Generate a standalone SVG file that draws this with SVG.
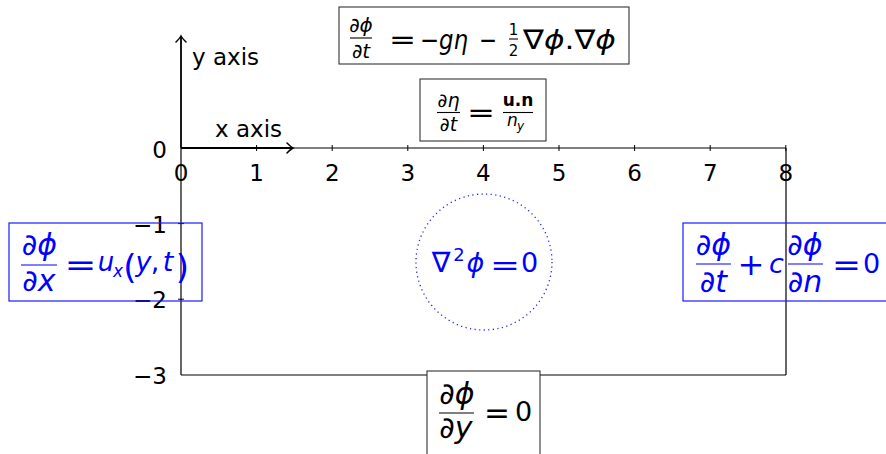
<svg xmlns="http://www.w3.org/2000/svg" width="886" height="454" viewBox="0 0 886 454">
<defs>
<marker id="arr" viewBox="-6 -6 9 12" markerWidth="9" markerHeight="12" refX="0" refY="0" orient="auto" markerUnits="userSpaceOnUse">
<path d="M-5,-5 Q-1,-1 1,0 Q-1,1 -5,5" fill="none" stroke="#000" stroke-width="1.5" stroke-linecap="round"/>
</marker>
</defs>
<style>
text{font-family:"DejaVu Sans",sans-serif;text-anchor:middle}
.ax{font-size:23px;fill:#000}
.i{font-style:oblique}
.s{text-anchor:start}
.blue text{fill:#0000ff}
.blue line{stroke:#0000ff}
.bar{stroke:#000;stroke-width:1.1}
.bx{fill:none;stroke:#333;stroke-width:1.1}
.bb{fill:none;stroke:#1a1aff;stroke-width:1.2}
</style>
<rect width="886" height="454" fill="#fff"/>

<g id="axes" stroke="#000" fill="none">
<line x1="181" y1="148" x2="786" y2="148" stroke-width="1.2"/>
<line x1="181" y1="148" x2="181" y2="375" stroke-width="1.2"/>
<line x1="181" y1="375" x2="786" y2="375" stroke-width="1.2"/>
<line x1="786" y1="148" x2="786" y2="375" stroke-width="1.2"/>
<line x1="181" y1="148" x2="292" y2="148" stroke-width="1.8" marker-end="url(#arr)"/>
<line x1="181" y1="148" x2="181" y2="37" stroke-width="1.8" marker-end="url(#arr)"/>
<path d="M256.6,145V151M332.2,145V151M407.8,145V151M483.4,145V151M559,145V151M634.6,145V151M710.2,145V151M785.8,145V151M178,223.6H184M178,299.2H184" stroke-width="1"/>
</g>

<g id="axis-labels" class="ax">
<text class="ax s" x="192" y="65">y axis</text>
<text class="ax s" x="215" y="137">x axis</text>
<text class="ax" x="167" y="158" style="text-anchor:end">0</text>
<text class="ax" x="181" y="181">0</text>
<text class="ax" x="256.6" y="181">1</text>
<text class="ax" x="332.2" y="181">2</text>
<text class="ax" x="407.8" y="181">3</text>
<text class="ax" x="483.4" y="181">4</text>
<text class="ax" x="559" y="181">5</text>
<text class="ax" x="634.6" y="181">6</text>
<text class="ax" x="710.2" y="181">7</text>
<text class="ax" x="785.8" y="181">8</text>
<text class="ax" x="167" y="232.5" style="text-anchor:end">−1</text>
<text class="ax" x="167" y="308" style="text-anchor:end">−2</text>
<text class="ax" x="167" y="384" style="text-anchor:end">−3</text>
</g>

<g id="dynamic-fs-bc">
<rect class="bx" x="339" y="7" width="290" height="57"/>
<text class="i" x="361" y="32" font-size="20">∂ϕ</text>
<line class="bar" x1="350" y1="38" x2="372" y2="38"/>
<text class="i" x="361" y="58" font-size="20">∂t</text>
<text x="402.5" y="48.5" font-size="27" textLength="27" lengthAdjust="spacingAndGlyphs">=</text>
<text class="s i" x="420" y="49" font-size="27" textLength="48" lengthAdjust="spacingAndGlyphs">−gη</text>
<text x="488" y="48.5" font-size="27" textLength="18" lengthAdjust="spacingAndGlyphs">−</text>
<text x="513.5" y="35" font-size="15">1</text>
<line class="bar" x1="509" y1="39" x2="518" y2="39"/>
<text x="513.5" y="56" font-size="15">2</text>
<text class="s" x="523" y="49" font-size="27" textLength="93" lengthAdjust="spacingAndGlyphs">∇<tspan class="i">ϕ</tspan>.∇<tspan class="i">ϕ</tspan></text>
</g>

<g id="kinematic-fs-bc">
<rect class="bx" x="420" y="79" width="126" height="62"/>
<text class="i" x="448.5" y="107" font-size="19">∂η</text>
<line class="bar" x1="437" y1="112.5" x2="460" y2="112.5"/>
<text class="i" x="448.5" y="131" font-size="19">∂t</text>
<text x="481" y="122" font-size="27" textLength="28" lengthAdjust="spacingAndGlyphs">=</text>
<text x="518" y="106" font-size="17" font-weight="bold">u.n</text>
<line class="bar" x1="503" y1="112.5" x2="533" y2="112.5"/>
<text class="i" x="512.5" y="126" font-size="17">n</text>
<text class="i" x="520.5" y="130" font-size="12">y</text>
</g>

<g id="inflow-bc" class="blue">
<rect class="bb" x="9" y="223" width="193" height="78"/>
<text class="i" x="39.5" y="255" font-size="30">∂ϕ</text>
<line x1="21" y1="265" x2="57" y2="265" stroke-width="1.2"/>
<text class="i" x="39" y="291" font-size="30">∂x</text>
<text x="80.5" y="275" font-size="30" textLength="32" lengthAdjust="spacingAndGlyphs">=</text>
<text class="i" x="106" y="271" font-size="26">u</text>
<text class="i" x="118" y="277" font-size="17">x</text>
<text x="130" y="279" font-size="34">(</text>
<text class="i" x="143.5" y="271" font-size="27">y</text>
<text x="155" y="271" font-size="27">,</text>
<text class="i" x="168" y="271" font-size="27">t</text>
<text x="182.5" y="279" font-size="34">)</text>
</g>

<g id="radiation-bc" class="blue">
<rect class="bb" x="683" y="223" width="220" height="78"/>
<text class="i" x="713.5" y="255" font-size="30">∂ϕ</text>
<line x1="696" y1="264" x2="731" y2="264" stroke-width="1.2"/>
<text class="i" x="713.5" y="292" font-size="30">∂t</text>
<text x="751" y="275" font-size="30" textLength="27" lengthAdjust="spacingAndGlyphs">+</text>
<text class="i" x="776.5" y="273" font-size="27">c</text>
<text class="i" x="805" y="255" font-size="30">∂ϕ</text>
<line x1="788" y1="264" x2="823" y2="264" stroke-width="1.2"/>
<text class="i" x="805" y="292" font-size="30">∂n</text>
<text x="846.5" y="275" font-size="30" textLength="29" lengthAdjust="spacingAndGlyphs">=</text>
<text x="871.5" y="273" font-size="27">0</text>
</g>

<g id="bottom-bc">
<rect x="427" y="371" width="113" height="100" fill="#fff" stroke="#333" stroke-width="1.1"/>
<text class="i" x="457" y="404" font-size="30">∂ϕ</text>
<line class="bar" x1="439" y1="413" x2="474" y2="413"/>
<text class="i" x="456" y="438" font-size="30">∂y</text>
<text x="497" y="423" font-size="30" textLength="26" lengthAdjust="spacingAndGlyphs">=</text>
<text x="523.5" y="421" font-size="27">0</text>
</g>

<g id="laplace" class="blue">
<circle cx="484" cy="262" r="68" fill="none" stroke="#2222ff" stroke-width="1.3" stroke-dasharray="1.2 3.4"/>
<text x="441" y="272" font-size="28">∇</text>
<text x="459" y="261" font-size="18">2</text>
<text class="i" x="475.5" y="272" font-size="27">ϕ</text>
<text x="505" y="275" font-size="28" textLength="30" lengthAdjust="spacingAndGlyphs">=</text>
<text x="529.5" y="272" font-size="27">0</text>
</g>
</svg>
